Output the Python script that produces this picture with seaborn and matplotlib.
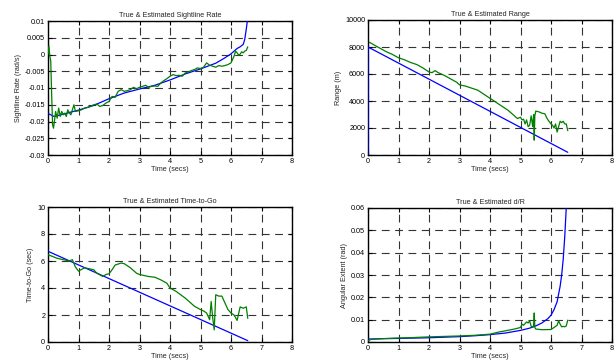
import matplotlib
matplotlib.use("Agg")
import matplotlib.pyplot as plt
import seaborn as sns
import pandas as pd

# ---------------- data ----------------
# Sightline rate
t_slr_true = [0, 0.2, 0.5, 1, 1.5, 2, 2.5, 3, 3.5, 4, 4.5, 5, 5.5, 5.8, 6.0, 6.2, 6.3, 6.4, 6.45, 6.5, 6.55]
slr_true = [-0.0176, -0.0185, -0.0178, -0.0166, -0.0152, -0.0132, -0.0115, -0.0103, -0.0092, -0.0076,
            -0.0058, -0.0043, -0.0026, -0.0010, 0.0002, 0.0018, 0.0023, 0.0030, 0.0045, 0.0075, 0.0110]
t_slr_est = [0, 0.03, 0.06, 0.09, 0.12, 0.15, 0.18, 0.21, 0.25,
             0.3, 0.35, 0.4, 0.45, 0.5, 0.55, 0.6, 0.65, 0.7, 0.75, 0.8, 0.85, 0.9,
             1.0, 1.1, 1.2, 1.3, 1.4, 1.5, 1.6, 1.7, 1.8, 1.9, 2.0, 2.1, 2.2, 2.3, 2.4, 2.5, 2.6, 2.7,
             2.8, 2.9, 3.0, 3.1, 3.2, 3.3, 3.4, 3.5, 3.6, 3.7, 3.8, 3.9, 4.0, 4.1, 4.2, 4.3, 4.4, 4.5,
             4.6, 4.7, 4.8, 4.9, 5.0, 5.1, 5.2, 5.3, 5.4, 5.5, 5.6, 5.7, 5.8, 5.9, 6.0,
             6.05, 6.1, 6.15, 6.2, 6.25, 6.3, 6.35, 6.4, 6.45, 6.5, 6.55]
slr_est = [0.0, 0.0025, -0.0005, -0.002, -0.012, -0.021, -0.022, -0.020, -0.017,
           -0.019, -0.016, -0.0185, -0.017, -0.018, -0.0175, -0.0185, -0.0165, -0.0175, -0.018, -0.0165, -0.015, -0.017,
           -0.0168, -0.0165, -0.0160, -0.0158, -0.0155, -0.0150, -0.0148, -0.0155, -0.0152, -0.0145, -0.0140,
           -0.0125, -0.0128, -0.0110, -0.0105, -0.0110, -0.0108, -0.0105, -0.0098, -0.0102, -0.0098, -0.0095,
           -0.0092, -0.0098, -0.0095, -0.0094, -0.0095, -0.0085, -0.0078, -0.0072, -0.0065, -0.0060, -0.0063,
           -0.0062, -0.0065, -0.0055, -0.0052, -0.0048, -0.0045, -0.0040, -0.0042, -0.0038, -0.0025, -0.0032,
           -0.0035, -0.0038, -0.0033, -0.0035, -0.0033, -0.0030, -0.0025,
           -0.0015, -0.0005, 0.0010, 0.0005, -0.0002, 0.0001, 0.0008, 0.0005, 0.0010, 0.0012, 0.0023]

# Range
t_rng_true = [0, 0, 6.55]
rng_true = [0, 8000, 200]
t_rng_est = [0.05, 0.2, 0.4, 0.6, 0.8, 1.0, 1.2, 1.4, 1.6, 1.8, 2.0, 2.1, 2.2, 2.3, 2.5, 2.7, 2.9,
             3.0, 3.2, 3.4, 3.6, 3.8, 4.0, 4.2, 4.4, 4.6, 4.8, 4.9,
             5.0, 5.05, 5.1, 5.15, 5.2, 5.25, 5.3, 5.35, 5.4, 5.43, 5.45, 5.47, 5.5,
             5.6, 5.7, 5.8, 5.85, 5.9, 6.0, 6.05, 6.1, 6.15, 6.2, 6.25, 6.3, 6.35, 6.4, 6.45, 6.5, 6.55]
rng_est = [8350, 8150, 7900, 7650, 7450, 7200, 7050, 6850, 6700, 6450, 6150, 6100, 6250, 6100, 5900, 5650, 5400,
           5200, 5100, 4950, 4800, 4500, 4200, 3900, 3600, 3300, 2900, 2700,
           2800, 2600, 2650, 2300, 2600, 2100, 2200, 2900, 2100, 3000, 1100, 2900, 3250,
           3200, 3100, 3050, 2800, 2600, 2300, 2200, 2000, 2300, 1700, 2100, 2500, 2400, 2500, 2300, 2300, 1800]

# Time-to-go
t_tgo_true = [0, 6.55]
tgo_true = [6.72, 0.1]
t_tgo_est = [0, 0.3, 0.5, 0.7, 0.8, 0.9, 1.0, 1.2, 1.5, 1.6, 1.8, 1.9, 2.0, 2.1, 2.2, 2.4, 2.5, 2.7, 2.9,
             3.0, 3.3, 3.5, 3.7, 3.9, 4.0, 4.2, 4.5, 4.8, 5.0, 5.1, 5.2, 5.3, 5.35, 5.4, 5.45, 5.5,
             5.6, 5.7, 5.8, 5.9, 6.0, 6.1, 6.2, 6.3, 6.4, 6.5, 6.55]
tgo_est = [6.47, 6.2, 6.1, 6.0, 6.1, 5.55, 5.25, 5.5, 5.35, 5.1, 4.85, 5.0, 5.05, 5.35, 5.7, 5.85, 5.8, 5.5, 5.1,
           5.0, 4.85, 4.8, 4.6, 4.35, 4.0, 3.75, 3.25, 2.65, 2.4, 2.3, 2.15, 1.65, 3.0, 1.8, 0.9, 3.5,
           3.4, 3.4, 2.9, 2.4, 2.15, 2.0, 1.6, 2.6, 2.5, 2.6, 1.75]

# Angular extent d/R
t_dr_true = [0, 0.5, 1, 2, 3, 3.5, 4, 4.5, 5, 5.3, 5.5, 5.7, 5.9, 6.0, 6.1, 6.2, 6.3, 6.35, 6.4, 6.45, 6.5, 6.52]
dr_true = [0.0013, 0.0015, 0.0016, 0.0019, 0.0024, 0.0028, 0.0033, 0.0040, 0.0052, 0.0062, 0.0072, 0.0085,
           0.0105, 0.0120, 0.0145, 0.0180, 0.0250, 0.0300, 0.0370, 0.0470, 0.0600, 0.0650]
t_dr_est = [0, 0.1, 0.5, 1, 1.5, 2, 2.5, 3, 3.5, 4, 4.3, 4.5, 4.8, 5.0, 5.05, 5.1, 5.2, 5.25, 5.3, 5.35,
            5.4, 5.43, 5.45, 5.47, 5.5, 5.7, 6.0, 6.1, 6.2, 6.25, 6.3, 6.35, 6.4, 6.45, 6.5, 6.55]
dr_est = [0.0005, 0.0012, 0.0015, 0.0018, 0.0020, 0.0023, 0.0025, 0.0027, 0.0030, 0.0035, 0.0045, 0.0050,
          0.0058, 0.0065, 0.0080, 0.0075, 0.0090, 0.0085, 0.0095, 0.0070, 0.0065, 0.0075, 0.0130, 0.0065,
          0.0058, 0.0055, 0.0056, 0.0065, 0.0075, 0.0095, 0.0080, 0.0068, 0.0070, 0.0068, 0.0072, 0.0098]

titles = ["True & Estimated Sightline Rate", "True & Estimated Range",
          "True & Estimated Time-to-Go", "True & Estimated d/R"]
ylabels = ["Sightline Rate (rad/s)", "Range (m)", "Time-to-Go (sec)", "Angular Extent (rad)"]
xlabel = "Time (secs)"
x_ticks = [0, 1, 2, 3, 4, 5, 6, 7, 8]
y_ticks_slr = [-0.03, -0.025, -0.02, -0.015, -0.01, -0.005, 0, 0.005, 0.01]
y_tick_labels_slr = ["-0.03", "-0.025", "-0.02", "-0.015", "-0.01", "-0.005", "0", "0.005", "0.01"]
y_ticks_rng = [0, 2000, 4000, 6000, 8000, 10000]
y_ticks_tgo = [0, 2, 4, 6, 8, 10]
y_ticks_dr = [0, 0.01, 0.02, 0.03, 0.04, 0.05, 0.06]
y_tick_labels_dr = ["0", "0.01", "0.02", "0.03", "0.04", "0.05", "0.06"]

# ---------------- plot ----------------
sns.set_style("white")
plt.rcParams["font.family"] = ["Liberation Sans", "DejaVu Sans"]

W, H = 616, 363
fig = plt.figure(figsize=(W / 100, H / 100), dpi=100)

def rect(l, t, r, b):
    return [l / W, 1 - b / H, (r - l) / W, (b - t) / H]

axes = [fig.add_axes(rect(48, 21, 292, 155)),
        fig.add_axes(rect(368, 20, 612, 155)),
        fig.add_axes(rect(48, 207, 292, 342)),
        fig.add_axes(rect(368, 208, 612, 342))]

BLUE = "#0000ff"
GREEN = "#007f00"
FS = 5.2

series = [
    (t_slr_true, slr_true, t_slr_est, slr_est, (-0.03, 0.01), y_ticks_slr, y_tick_labels_slr),
    (t_rng_true, rng_true, t_rng_est, rng_est, (0, 10000), y_ticks_rng, [str(v) for v in y_ticks_rng]),
    (t_tgo_true, tgo_true, t_tgo_est, tgo_est, (0, 10), y_ticks_tgo, [str(v) for v in y_ticks_tgo]),
    (t_dr_true, dr_true, t_dr_est, dr_est, (0, 0.06), y_ticks_dr, y_tick_labels_dr),
]

for ax, (tt, yt, te, ye, ylim, yticks, ylabs), title, ylab in zip(axes, series, titles, ylabels):
    df_true = pd.DataFrame({"t": tt, "v": yt})
    df_est = pd.DataFrame({"t": te, "v": ye})
    sns.lineplot(data=df_true, x="t", y="v", ax=ax, color=BLUE, lw=0.9, sort=False, estimator=None, zorder=3)
    sns.lineplot(data=df_est, x="t", y="v", ax=ax, color=GREEN, lw=0.9, sort=False, estimator=None, zorder=4)
    ax.set_xlim(0, 8)
    ax.set_ylim(*ylim)
    ax.set_xticks(x_ticks)
    ax.set_xticklabels([str(v) for v in x_ticks])
    ax.set_yticks(yticks)
    ax.set_yticklabels(ylabs)
    ax.grid(True, color="#333333", linestyle=(0, (7, 5)), linewidth=0.8)
    ax.set_axisbelow(True)
    ax.tick_params(direction="in", length=3, width=0.8, labelsize=FS, top=True, right=True,
                   bottom=True, left=True, pad=2, colors="black")
    for s in ax.spines.values():
        s.set_visible(True)
        s.set_color("black")
        s.set_linewidth(1.0)
    ax.set_title(title, fontsize=FS, pad=3)
    ax.set_xlabel(xlabel, fontsize=FS, labelpad=1)
    ax.set_ylabel(ylab, fontsize=FS, labelpad=2)

fig.savefig("out.png", dpi=100)
